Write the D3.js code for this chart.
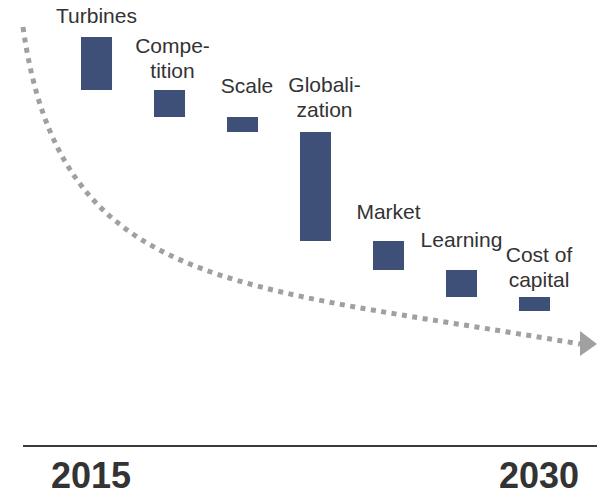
<!DOCTYPE html>
<html>
<head>
<meta charset="utf-8">
<script src="https://cdn.jsdelivr.net/npm/d3@7"></script>
<style>
  html, body { margin: 0; padding: 0; background: #fff; }
  svg { display: block; font-family: 'Liberation Sans', Arial, sans-serif; }
</style>
</head>
<body>
<svg id="chart"></svg>
<script>
// 成本下降的驅動因素
const categories = ['Turbines', 'Competition', 'Scale', 'Globalization', 'Market', 'Learning', 'Cost of capital']
const labelLines = [['Turbines'], ['Compe-', 'tition'], ['Scale'], ['Globali-', 'zation'], ['Market'], ['Learning'], ['Cost of', 'capital']]
// reduction per driver (percentage points)
const reductions = [5.3, 2.7, 1.5, 10.9, 2.9, 2.7, 1.4]
const years = ['2015', '2030']

// label placement tweaks (layout only)
const labelGap = [14, 12, 24, 15, 22, 23, 10]
const labelDx = [0, 3, 4.5, 9, 0, 0, 4.5]

const width = 605
const height = 495
const barColor = '#3e5078'
const textColor = '#333'
const arrowColor = '#a0a0a0'

const svg = d3.select('#chart')
  .attr('width', width)
  .attr('height', height)

// 瀑布圖累積值
let acc = 0
const steps = reductions.map((v, i) => {
  const s = { key: categories[i], lines: labelLines[i], y0: acc, y1: acc + v, gap: labelGap[i], dx: labelDx[i] }
  acc += v
  return s
})

const x = d3.scaleBand()
  .domain(categories)
  .range([60, 571])
  .paddingInner(0.575)
  .paddingOuter(0.2877)

const y = d3.scaleLinear()
  .domain([0, 30])
  .range([37, 337])

// dotted trend arrow
const trend = d3.path()
trend.moveTo(23, 27)
trend.bezierCurveTo(60, 290, 230, 284, 580, 344)

svg.append('path')
  .attr('d', trend.toString())
  .attr('fill', 'none')
  .attr('stroke', arrowColor)
  .attr('stroke-width', 5)
  .attr('stroke-dasharray', '5,5.5')

svg.append('path')
  .attr('d', 'M580,331 L597,344 L580,356 Z')
  .attr('fill', arrowColor)

// bars
svg.append('g')
  .selectAll('rect')
  .data(steps)
  .enter()
  .append('rect')
  .attr('x', d => x(d.key))
  .attr('y', d => y(d.y0))
  .attr('width', x.bandwidth())
  .attr('height', d => y(d.y1) - y(d.y0))
  .attr('fill', barColor)

// labels
const lineH = 25
svg.append('g')
  .selectAll('text')
  .data(steps)
  .enter()
  .append('text')
  .attr('text-anchor', 'middle')
  .attr('font-size', 21)
  .attr('fill', textColor)
  .each(function (d) {
    const t = d3.select(this)
    const cx = x(d.key) + x.bandwidth() / 2 + d.dx
    const base = y(d.y0) - d.gap - (d.lines.length - 1) * lineH
    d.lines.forEach((ln, i) => {
      t.append('tspan')
        .attr('x', cx)
        .attr('y', base + i * lineH)
        .text(ln)
    })
  })

// baseline + years
svg.append('line')
  .attr('x1', 23)
  .attr('x2', 597)
  .attr('y1', 446)
  .attr('y2', 446)
  .attr('stroke', '#3a3a3a')
  .attr('stroke-width', 2)

svg.append('g')
  .selectAll('text')
  .data(years)
  .enter()
  .append('text')
  .attr('x', (d, i) => i === 0 ? 91 : 539)
  .attr('y', 488)
  .attr('text-anchor', 'middle')
  .attr('font-size', 36)
  .attr('font-weight', 'bold')
  .attr('fill', textColor)
  .text(d => d)
</script>
</body>
</html>
